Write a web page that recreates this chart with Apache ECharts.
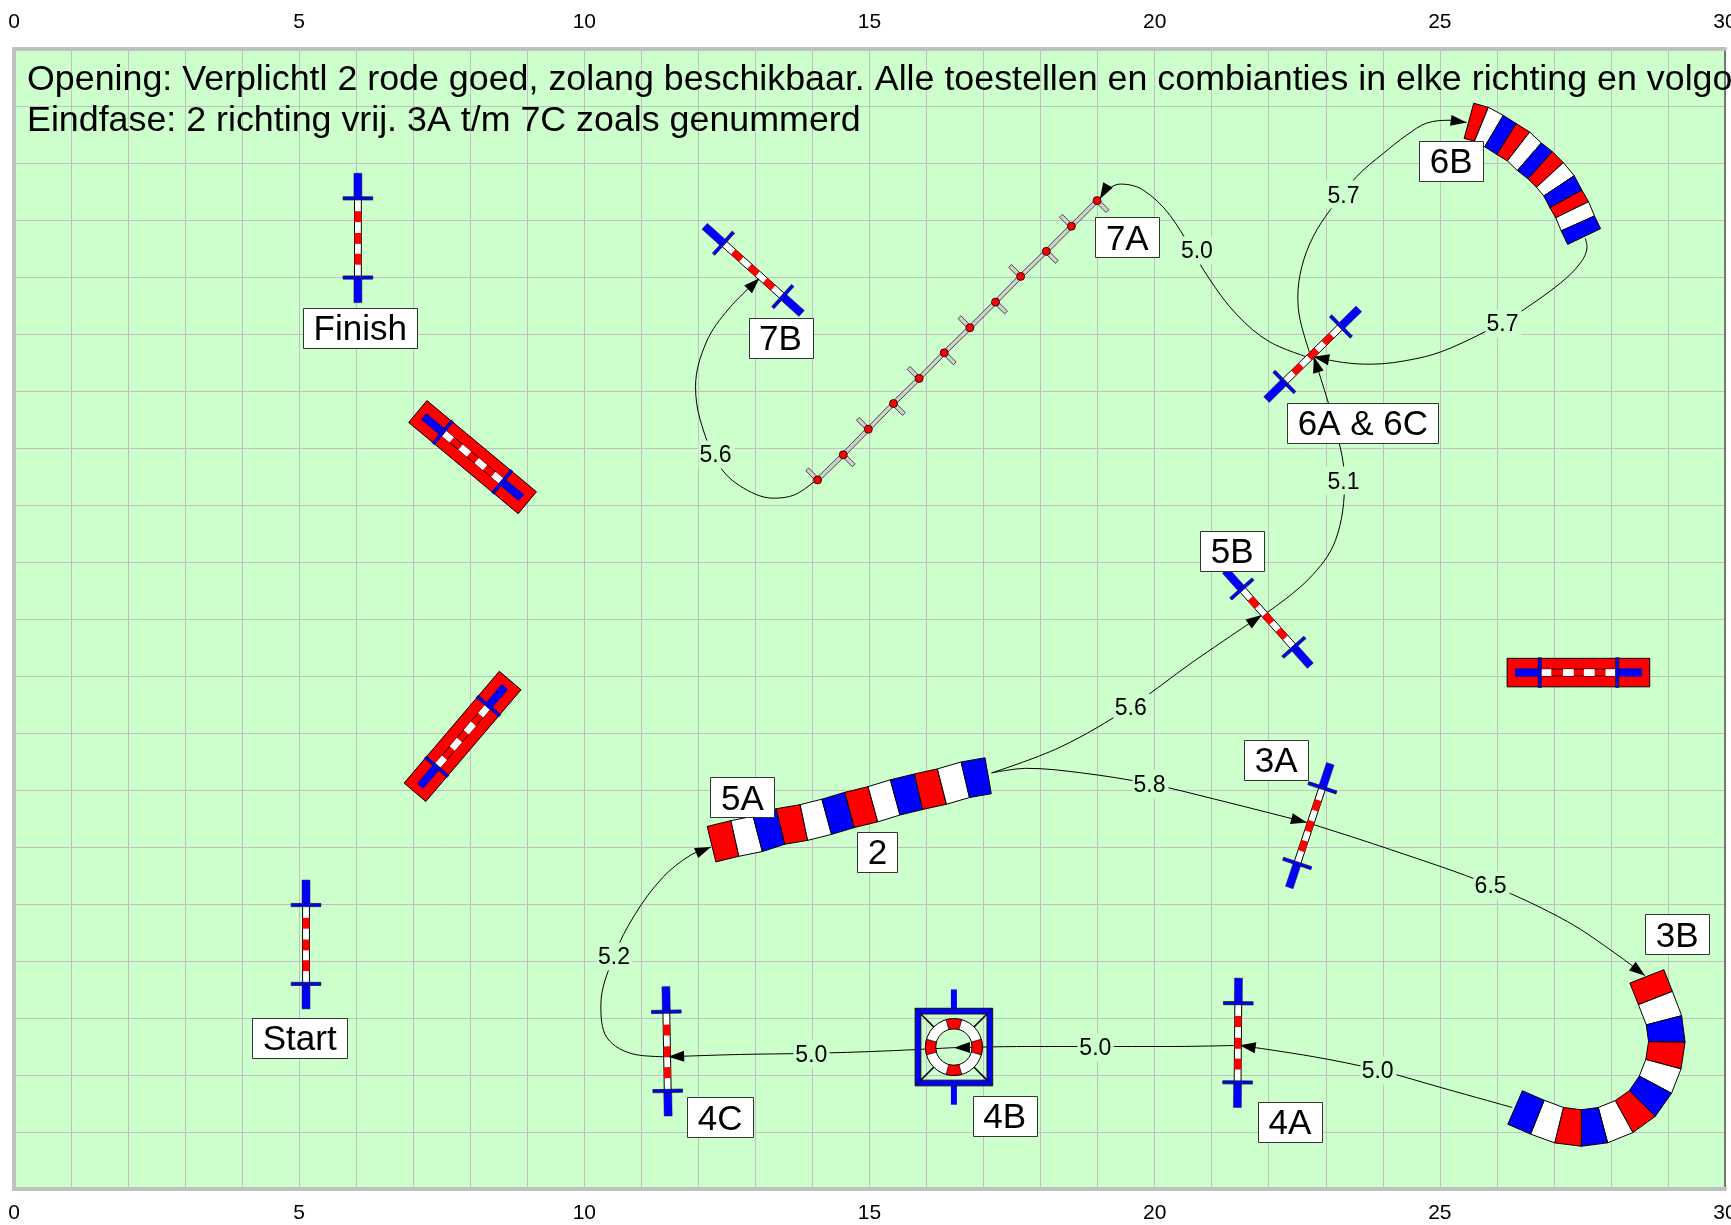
<!DOCTYPE html>
<html>
<head>
<meta charset="utf-8">
<title>Parcours</title>
<style>
  html, body { margin: 0; padding: 0; background: #fff; }
  #main { width: 1731px; height: 1225px; }
</style>
<script src="https://cdn.jsdelivr.net/npm/echarts@6/dist/echarts.min.js"></script>
</head>
<body>
<div id="main"></div>
<script>
// all positions are metres on the 30 x 20 field, y counted from the top
var xTickLabels = [0, 5, 10, 15, 20, 25, 30];
var briefing = 'Opening: Verplichtl 2 rode goed, zolang beschikbaar. Alle toestellen en combianties in elke richting en volgorde\nEindfase: 2 richting vrij. 3A t/m 7C zoals genummerd';

// jumps: both ends of the bar
var jumps = [
  [6.03, 2.18, 6.03, 4.45],
  [5.12, 14.58, 5.12, 16.84],
  [12.11, 3.11, 13.81, 4.64],
  [21.96, 6.15, 23.58, 4.56],
  [21.24, 9.15, 22.73, 10.82],
  [23.08, 12.54, 22.36, 14.71],
  [21.47, 16.30, 21.45, 18.57],
  [11.43, 16.45, 11.47, 18.72]
];
// jumps with a red wall
var walls = [
  [7.08, 6.36, 9.00, 7.96],
  [7.03, 13.04, 8.70, 11.08],
  [26.18, 10.94, 28.68, 10.94]
];
// tunnels: centre line, one point per segment joint
var tunnel5A = [
  [12.23, 13.95], [12.64, 13.85], [13.04, 13.77], [13.44, 13.64], [13.85, 13.57],
  [14.25, 13.47], [14.65, 13.35], [15.06, 13.25], [15.45, 13.13], [15.86, 13.03],
  [16.27, 12.94], [16.68, 12.82], [17.08, 12.75]
];
var tunnel6B = [
  [25.51, 1.26], [25.73, 1.32], [25.95, 1.44], [26.17, 1.58], [26.38, 1.71],
  [26.57, 1.89], [26.76, 2.04], [26.93, 2.21], [27.09, 2.40], [27.21, 2.63],
  [27.32, 2.82], [27.42, 3.06], [27.53, 3.29]
];
var tunnel3B = [
  [28.63, 16.27], [28.78, 16.65], [28.93, 17.04], [28.98, 17.42], [28.92, 17.81],
  [28.78, 18.17], [28.55, 18.50], [28.23, 18.73], [27.86, 18.88], [27.48, 18.93],
  [27.09, 18.88], [26.71, 18.74], [26.32, 18.57]
];
var tire = [[16.48, 17.51]];
var weavePoles = [
  [14.09, 7.56], [14.54, 7.12], [14.98, 6.67], [15.42, 6.22], [15.87, 5.78], [16.31, 5.33],
  [16.76, 4.89], [17.21, 4.44], [17.65, 3.99], [18.10, 3.55], [18.54, 3.11], [18.99, 2.66]
];

// the dog's line between the obstacles, last point is the arrow tip
var paths = [
  [[17.14, 12.70], [17.76, 12.62], [18.72, 12.70], [19.91, 12.89], [21.05, 13.16], [22.67, 13.57]],
  [[22.67, 13.57], [24.15, 14.05], [25.89, 14.67], [27.24, 15.31], [28.11, 15.89], [28.60, 16.26]],
  [[26.27, 18.57], [25.09, 18.24], [23.91, 17.91], [22.79, 17.68], [21.49, 17.48]],
  [[21.49, 17.48], [20.27, 17.50], [18.96, 17.50], [17.76, 17.50], [16.48, 17.52]],
  [[16.48, 17.52], [15.24, 17.58], [13.98, 17.62], [12.72, 17.64], [11.47, 17.68]],
  [[11.47, 17.68], [10.89, 17.64], [10.40, 17.35], [10.29, 16.77], [10.52, 15.91],
    [10.89, 15.18], [11.37, 14.54], [11.85, 14.15], [12.22, 14.00]],
  [[17.14, 12.70], [18.34, 12.25], [19.58, 11.54], [20.66, 10.76], [21.88, 9.93]],
  [[21.94, 9.91], [22.70, 9.30], [23.17, 8.62], [23.33, 7.57], [23.18, 6.69], [22.79, 5.40]],
  [[22.72, 5.34], [22.55, 4.75], [22.51, 4.35], [22.58, 3.82], [22.78, 3.29], [23.08, 2.82],
    [23.54, 2.24], [24.01, 1.83], [24.42, 1.51], [24.77, 1.30], [25.18, 1.25], [25.47, 1.29]],
  [[27.55, 3.32], [27.58, 3.47], [27.46, 3.76], [27.11, 4.11], [26.46, 4.58], [26.10, 4.80],
    [25.18, 5.25], [24.60, 5.43], [23.78, 5.53], [23.31, 5.50], [22.78, 5.40]],
  [[22.79, 5.44], [22.02, 5.14], [21.44, 4.66], [20.95, 4.02], [20.27, 2.92],
    [19.79, 2.47], [19.40, 2.37], [19.11, 2.51], [19.04, 2.63]],
  [[14.08, 7.55], [13.69, 7.82], [13.31, 7.88], [12.72, 7.66], [12.34, 7.27], [12.03, 6.50],
    [11.95, 5.92], [12.14, 5.14], [12.53, 4.56], [13.07, 4.02]]
];

var obstacleLabels = [
  [6.07, 4.89, 'Finish'], [5.01, 17.35, 'Start'], [13.44, 5.07, '7B'], [19.52, 3.30, '7A'],
  [25.20, 1.96, '6B'], [23.65, 6.56, '6A & 6C'], [21.36, 8.80, '5B'], [12.77, 13.13, '5A'],
  [15.14, 14.08, '2'], [22.13, 12.47, '3A'], [29.16, 15.53, '3B'], [22.37, 18.82, '4A'],
  [17.37, 18.72, '4B'], [12.38, 18.74, '4C']
];
var distanceLabels = [
  [19.91, 12.89, '5.8'], [25.89, 14.67, '6.5'], [23.91, 17.91, '5.0'], [18.96, 17.50, '5.0'],
  [13.98, 17.62, '5.0'], [10.52, 15.91, '5.2'], [19.58, 11.54, '5.6'], [23.31, 7.57, '5.1'],
  [23.31, 2.55, '5.7'], [26.10, 4.80, '5.7'], [20.74, 3.52, '5.0'], [12.30, 7.10, '5.6']
];

var fontName = '"Liberation Sans", Arial, sans-serif';
var red = '#ff0000', blue = '#0000ff', tunnelColors = [red, '#ffffff', blue];
var measureCtx = document.createElement('canvas').getContext('2d');

var myChart = echarts.init(document.getElementById('main'));

function poly (points, fill, stroke, width) {
  return {
    type: 'polygon',
    silent: true,
    shape: { points: points },
    style: { fill: fill, stroke: stroke || null, lineWidth: width || 0 }
  };
}

function along (a, b, t) {
  return [a[0] + (b[0] - a[0]) * t, a[1] + (b[1] - a[1]) * t];
}

// rectangle around the piece a-b, hw is half its width
function bar (a, b, hw) {
  var dx = b[0] - a[0], dy = b[1] - a[1];
  var len = Math.sqrt(dx * dx + dy * dy) || 1;
  var nx = -dy / len * hw, ny = dx / len * hw;
  return [[a[0] + nx, a[1] + ny], [b[0] + nx, b[1] + ny], [b[0] - nx, b[1] - ny], [a[0] - nx, a[1] - ny]];
}

// pole, blue ends and the two cross bars of a jump
function jumpParts (a, b, m, poleColor, stripeColor, stripes) {
  var parts = [];
  var p1 = along(a, b, 0.194), p2 = along(a, b, 0.806);
  parts.push(poly(bar(p1, p2, 0.06 * m), poleColor, '#000', 1));
  for (var i = 0; i < stripes.length; i++) {
    parts.push(poly(bar(along(p1, p2, stripes[i][0]), along(p1, p2, stripes[i][1]), 0.06 * m), stripeColor));
  }
  parts.push(poly(bar(a, p1, 0.07 * m), blue, '#222', 0.5));
  parts.push(poly(bar(p2, b, 0.07 * m), blue, '#222', 0.5));
  [p1, p2].forEach(function (p) {
    var dx = b[0] - a[0], dy = b[1] - a[1];
    var len = Math.sqrt(dx * dx + dy * dy);
    var hw = 0.26 * m;
    var q1 = [p[0] - dy / len * hw, p[1] + dx / len * hw];
    var q2 = [p[0] + dy / len * hw, p[1] - dx / len * hw];
    parts.push(poly(bar(q1, q2, 1.6), blue, '#111', 0.7));
  });
  return parts;
}

function renderJump (params, api) {
  var a = api.coord([api.value(0), api.value(1)]);
  var b = api.coord([api.value(2), api.value(3)]);
  var m = api.size([1, 0])[0];
  return {
    type: 'group',
    children: jumpParts(a, b, m, '#ffffff', red, [[0.1625, 0.3], [0.4375, 0.575], [0.7, 0.8375]])
  };
}

function renderWall (params, api) {
  var a = api.coord([api.value(0), api.value(1)]);
  var b = api.coord([api.value(2), api.value(3)]);
  var m = api.size([1, 0])[0];
  var children = [poly(bar(a, b, 0.25 * m), red, '#000', 1)];
  return {
    type: 'group',
    children: children.concat(jumpParts(along(a, b, 0.056), along(a, b, 0.944), m, red, '#ffffff',
      [[0.02, 0.15], [0.3, 0.44], [0.57, 0.71], [0.85, 0.98]]))
  };
}

// one item per tunnel segment
function tunnelSeries (points) {
  return {
    type: 'custom',
    coordinateSystem: 'cartesian2d',
    z: 4,
    clip: false,
    silent: true,
    data: points,
    renderItem: function (params, api) {
      var i = params.dataIndex;
      if (i >= points.length - 1) {
        return null;
      }
      var hw = 0.32 * api.size([1, 0])[0];
      function edge (k) {
        var p = api.coord(points[k]);
        var prev = api.coord(points[Math.max(k - 1, 0)]);
        var next = api.coord(points[Math.min(k + 1, points.length - 1)]);
        var dx = next[0] - prev[0], dy = next[1] - prev[1];
        var len = Math.sqrt(dx * dx + dy * dy);
        return [[p[0] - dy / len * hw, p[1] + dx / len * hw], [p[0] + dy / len * hw, p[1] - dx / len * hw]];
      }
      var e1 = edge(i), e2 = edge(i + 1);
      return poly([e1[0], e2[0], e2[1], e1[1]], tunnelColors[i % 3], '#000', 1);
    }
  };
}

function renderTire (params, api) {
  var c = api.coord([api.value(0), api.value(1)]);
  var m = api.size([1, 0])[0];
  var o = 0.68 * m, n = 0.58 * m, s = 1.01 * m;
  var children = [];
  children.push(poly(bar([c[0], c[1] - s], [c[0], c[1] - o], 3), blue));
  children.push(poly(bar([c[0], c[1] + o], [c[0], c[1] + s], 3), blue));
  // frame sides meet in mitred corners
  var out = [[-o, -o], [o, -o], [o, o], [-o, o]];
  var inn = [[-n, -n], [n, -n], [n, n], [-n, n]];
  for (var i = 0; i < 4; i++) {
    var j = (i + 1) % 4;
    children.push(poly([
      [c[0] + out[i][0], c[1] + out[i][1]], [c[0] + out[j][0], c[1] + out[j][1]],
      [c[0] + inn[j][0], c[1] + inn[j][1]], [c[0] + inn[i][0], c[1] + inn[i][1]]
    ], blue, '#111', 1));
    children.push({
      type: 'line',
      silent: true,
      shape: {
        x1: c[0] + inn[i][0], y1: c[1] + inn[i][1],
        x2: c[0] + inn[i][0] * 0.55, y2: c[1] + inn[i][1] * 0.55
      },
      style: { stroke: '#000', lineWidth: 1.5 }
    });
  }
  var r = 0.5 * m, r0 = 0.32 * m;
  children.push({
    type: 'ring',
    silent: true,
    shape: { cx: c[0], cy: c[1], r: r, r0: r0 },
    style: { fill: '#ffffff', stroke: '#000', lineWidth: 1 }
  });
  [0, 90, 180, 270].forEach(function (deg) {
    var mid = deg * Math.PI / 180, half = 16 * Math.PI / 180;
    children.push({
      type: 'sector',
      silent: true,
      shape: { cx: c[0], cy: c[1], r: r, r0: r0, startAngle: mid - half, endAngle: mid + half },
      style: { fill: red, stroke: '#000', lineWidth: 0.7 }
    });
  });
  return { type: 'group', children: children };
}

// base rail of the weave with a foot on alternating sides
function renderWeave (params, api) {
  var i = params.dataIndex;
  var p = api.coord(weavePoles[i]);
  var prev = api.coord(weavePoles[Math.max(i - 1, 0)]);
  var next = api.coord(weavePoles[Math.min(i + 1, weavePoles.length - 1)]);
  var dx = next[0] - prev[0], dy = next[1] - prev[1];
  var len = Math.sqrt(dx * dx + dy * dy);
  var foot = 0.26 * api.size([1, 0])[0] * (i % 2 === 0 ? 1 : -1);
  var q = [p[0] + dy / len * foot, p[1] - dx / len * foot];
  var children = [poly(bar(p, q, 2), '#d0d0d0', '#222', 0.8)];
  if (i < weavePoles.length - 1) {
    children.push(poly(bar(p, next, 2), '#d0d0d0', '#222', 0.8));
  }
  return { type: 'group', children: children };
}

function renderArrow (params, api) {
  var tip = api.coord([api.value(0), api.value(1)]);
  var from = api.coord([api.value(2), api.value(3)]);
  var dx = tip[0] - from[0], dy = tip[1] - from[1];
  var len = Math.sqrt(dx * dx + dy * dy);
  var base = [tip[0] - dx / len * 16, tip[1] - dy / len * 16];
  var ox = -dy / len * 5.5, oy = dx / len * 5.5;
  return poly([tip, [base[0] + ox, base[1] + oy], [base[0] - ox, base[1] - oy]], '#000');
}

function customSeries (data, render, z) {
  return { type: 'custom', coordinateSystem: 'cartesian2d', z: z, clip: false, silent: true, data: data, renderItem: render };
}

// box plus text, drawn by hand so the text can sit exactly in the box
function labelSeries (data, z, fontSize, padX, boxH, fill, stroke) {
  return customSeries(data.map(function (d) { return [d[0], d[1]]; }), function (params, api) {
    var c = api.coord([api.value(0), api.value(1)]);
    var text = data[params.dataIndex][2];
    var font = fontSize + 'px ' + fontName;
    measureCtx.font = font;
    var w = measureCtx.measureText(text).width + padX * 2;
    return {
      type: 'group',
      children: [
        {
          type: 'rect',
          silent: true,
          shape: { x: Math.round(c[0] - w / 2) + 0.5, y: Math.round(c[1] - boxH / 2) + 0.5, width: Math.round(w), height: boxH },
          style: { fill: fill, stroke: stroke, lineWidth: stroke ? 1 : 0 }
        },
        {
          type: 'text',
          silent: true,
          style: { text: text, x: c[0], y: c[1] + fontSize * 0.08, align: 'center', verticalAlign: 'middle', font: font, fill: '#000' }
        }
      ]
    };
  }, z);
}

var series = [];
paths.forEach(function (path) {
  series.push({
    type: 'line',
    z: 2,
    silent: true,
    clip: false,
    smooth: 0.35,
    symbol: 'none',
    data: path,
    lineStyle: { color: '#000', width: 1 }
  });
});
series.push(customSeries(walls, renderWall, 3));
series.push(customSeries(jumps, renderJump, 3));
series.push(tunnelSeries(tunnel5A));
series.push(tunnelSeries(tunnel6B));
series.push(tunnelSeries(tunnel3B));
series.push(customSeries(tire, renderTire, 3));
series.push(customSeries(weavePoles, renderWeave, 3));
series.push({
  type: 'scatter',
  z: 4,
  silent: true,
  symbolSize: 8,
  itemStyle: { color: red, borderColor: '#000', borderWidth: 0.8, opacity: 1 },
  data: weavePoles
});
series.push(customSeries(paths.map(function (path) {
  var n = path.length;
  return [path[n - 1][0], path[n - 1][1], path[n - 2][0], path[n - 2][1]];
}), renderArrow, 5));
series.push(labelSeries(distanceLabels, 6, 23, 2, 28, '#ccffcc', null));
series.push(labelSeries(obstacleLabels, 7, 35, 10.5, 40, '#ffffff', '#333'));

function xAxisFor (position, margin, splitShow) {
  return {
    type: 'value',
    position: position,
    min: 0,
    max: 30,
    interval: 1,
    axisLine: { show: true, onZero: false, lineStyle: { color: '#c0c0c0', width: 4 } },
    axisTick: { show: false },
    axisLabel: {
      show: true,
      margin: margin,
      color: '#000',
      fontSize: 21,
      fontFamily: fontName,
      showMinLabel: true,
      showMaxLabel: true,
      formatter: function (v) { return xTickLabels.indexOf(v) >= 0 ? String(v) : ''; }
    },
    splitLine: { show: splitShow, lineStyle: { color: '#c0c0c0', width: 1 } }
  };
}

var option = {
  animation: false,
  backgroundColor: '#ffffff',
  title: {
    text: briefing,
    left: 27,
    top: 60,
    padding: 0,
    z: 8,
    textStyle: { fontFamily: fontName, fontSize: 35.8, fontWeight: 'normal', lineHeight: 41, color: '#000' }
  },
  grid: {
    left: 14,
    right: 6,
    top: 49,
    bottom: 36,
    outerBoundsMode: 'none',
    show: true,
    backgroundColor: '#ccffcc',
    borderWidth: 0
  },
  xAxis: [xAxisFor('top', 16, true), xAxisFor('bottom', 14, false)],
  yAxis: [
    {
      type: 'value',
      inverse: true,
      position: 'left',
      min: 0,
      max: 20,
      interval: 1,
      axisLine: { show: true, onZero: false, lineStyle: { color: '#c0c0c0', width: 4 } },
      axisTick: { show: false },
      axisLabel: { show: false },
      splitLine: { show: true, lineStyle: { color: '#c0c0c0', width: 1 } }
    },
    {
      type: 'value',
      inverse: true,
      position: 'right',
      min: 0,
      max: 20,
      interval: 1,
      axisLine: { show: true, onZero: false, lineStyle: { color: '#555555', width: 1.5 } },
      axisTick: { show: false },
      axisLabel: { show: false },
      splitLine: { show: false }
    }
  ],
  series: series
};

myChart.setOption(option);
</script>
</body>
</html>
